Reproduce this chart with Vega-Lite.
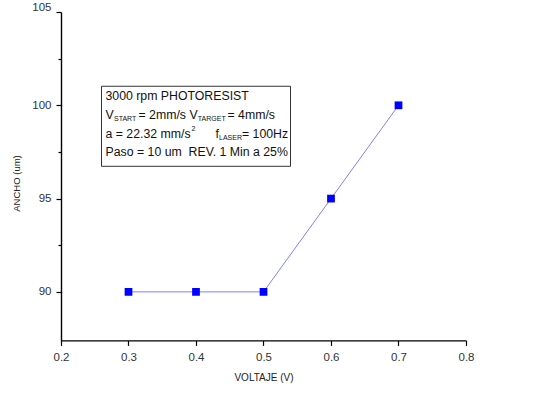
{
  "$schema": "https://vega.github.io/schema/vega-lite/v6.json",
  "width": 405,
  "height": 328.4,
  "autosize": {"type": "none"},
  "padding": {"left": 61, "top": 12, "right": 89, "bottom": 70.6},
  "background": "white",
  "config": {
    "view": {"stroke": null},
    "font": "Liberation Sans",
    "axis": {
      "grid": false,
      "domainColor": "#000000",
      "domainWidth": 1.4,
      "tickColor": "#000000",
      "tickWidth": 1.2,
      "tickSize": 5,
      "labelColor": "#333333",
      "labelFont": "Liberation Sans",
      "labelFontSize": 11.5,
      "titleColor": "#222222",
      "titleFont": "Liberation Sans",
      "titleFontWeight": "normal"
    }
  },
  "datasets": {
    "medidas": [
      {"voltaje": 0.3, "ancho": 90},
      {"voltaje": 0.4, "ancho": 90},
      {"voltaje": 0.5, "ancho": 90},
      {"voltaje": 0.6, "ancho": 95},
      {"voltaje": 0.7, "ancho": 100}
    ],
    "caja": [{"x0": 0.26, "x1": 0.54, "y0": 96.73, "y1": 101.02}],
    "texto": [
      {"x": 0.26593, "y": 100.48, "t": "3000 rpm PHOTORESIST"},
      {"x": 0.26593, "y": 99.46, "t": "V"},
      {"x": 0.31481, "y": 99.46, "t": "= 2mm/s V"},
      {"x": 0.44667, "y": 99.46, "t": "= 4mm/s"},
      {"x": 0.26593, "y": 98.45, "t": "a = 22.32 mm/s"},
      {"x": 0.42889, "y": 98.45, "t": "f"},
      {"x": 0.46815, "y": 98.45, "t": "= 100Hz"},
      {"x": 0.26593, "y": 97.48, "t": "Paso = 10 um \u00a0REV. 1 Min a 25%"}
    ],
    "indices": [
      {"x": 0.27852, "y": 99.25, "t": "START"},
      {"x": 0.40267, "y": 99.25, "t": "TARGET"},
      {"x": 0.39333, "y": 98.72, "t": "2"},
      {"x": 0.43407, "y": 98.24, "t": "LASER"}
    ]
  },
  "layer": [
    {
      "data": {"name": "medidas"},
      "mark": {"type": "line", "color": "#8080ff", "strokeWidth": 1},
      "encoding": {
        "x": {
          "field": "voltaje",
          "type": "quantitative",
          "scale": {"domain": [0.2, 0.8], "nice": false, "zero": false},
          "axis": {
            "title": "VOLTAJE (V)",
            "titleFontSize": 10,
            "titlePadding": 10,
            "values": [0.2, 0.25, 0.3, 0.35, 0.4, 0.45, 0.5, 0.55, 0.6, 0.65, 0.7, 0.75, 0.8],
            "labelExpr": "abs(datum.value * 10 - round(datum.value * 10)) < 0.001 ? format(datum.value, '.1f') : ''",
            "tickDash": {"condition": {"test": "abs(datum.value * 10 - round(datum.value * 10)) > 0.001", "value": [3, 20]}, "value": [20, 0]},
            "labelPadding": 6,
            "labelFlush": false
          }
        },
        "y": {
          "field": "ancho",
          "type": "quantitative",
          "scale": {"domain": [87.4, 105], "nice": false, "zero": false},
          "axis": {
            "title": "ANCHO (um)",
            "titleFontSize": 9.5,
            "titlePadding": 10,
            "titleY": 171,
            "values": [90, 92.5, 95, 97.5, 100, 102.5, 105],
            "labelExpr": "datum.value % 5 == 0 ? format(datum.value, 'd') : ''",
            "tickDash": {"condition": {"test": "datum.value % 5 != 0", "value": [3, 20]}, "value": [20, 0]},
            "labelBaseline": {"condition": {"test": "datum.value == 105", "value": "bottom"}, "value": "middle"},
            "labelPadding": 5,
            "labelFlush": false
          }
        }
      }
    },
    {
      "data": {"name": "medidas"},
      "mark": {"type": "square", "color": "#0000ff", "filled": true, "opacity": 1, "size": 60},
      "encoding": {
        "x": {"field": "voltaje", "type": "quantitative"},
        "y": {"field": "ancho", "type": "quantitative"}
      }
    },
    {
      "data": {"name": "caja"},
      "mark": {"type": "rect", "fill": "white", "stroke": "#333333", "strokeWidth": 1},
      "encoding": {
        "x": {"field": "x0", "type": "quantitative"},
        "x2": {"field": "x1"},
        "y": {"field": "y0", "type": "quantitative"},
        "y2": {"field": "y1"}
      }
    },
    {
      "data": {"name": "texto"},
      "mark": {"type": "text", "align": "left", "baseline": "middle", "fontSize": 12.3, "color": "#111111"},
      "encoding": {
        "x": {"field": "x", "type": "quantitative"},
        "y": {"field": "y", "type": "quantitative"},
        "text": {"field": "t"}
      }
    },
    {
      "data": {"name": "indices"},
      "mark": {"type": "text", "align": "left", "baseline": "middle", "fontSize": 7, "color": "#111111"},
      "encoding": {
        "x": {"field": "x", "type": "quantitative"},
        "y": {"field": "y", "type": "quantitative"},
        "text": {"field": "t"}
      }
    }
  ]
}
